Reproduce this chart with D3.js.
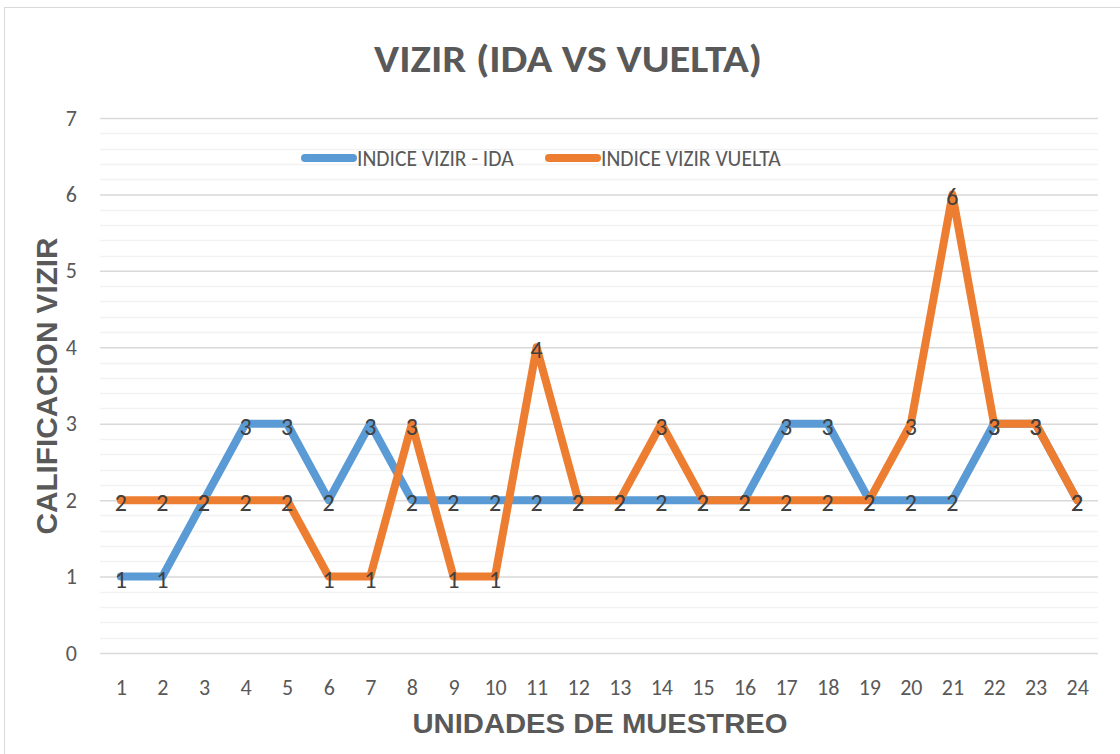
<!DOCTYPE html>
<html>
<head>
<meta charset="utf-8">
<script src="https://cdn.jsdelivr.net/npm/d3@7"></script>
<style>
  body { margin: 0; background: #fff; }
  text { font-family: Calibri, Carlito, "Liberation Sans", Arial, sans-serif; }
  .axis-title { font-family: Arial, "Liberation Sans", sans-serif; }
</style>
</head>
<body>
<svg id="chart" width="1120" height="754"></svg>
<script>
// datos
var unidades = [1,2,3,4,5,6,7,8,9,10,11,12,13,14,15,16,17,18,19,20,21,22,23,24];
var ida =    [1,1,2,3,3,2,3,2,2,2,2,2,2,2,2,2,3,3,2,2,2,3,3,2];
var vuelta = [2,2,2,2,2,1,1,3,1,1,4,2,2,3,2,2,2,2,2,3,6,3,3,2];
var yTicks = [0,1,2,3,4,5,6,7];
var seriesNames = ["INDICE VIZIR - IDA", "INDICE VIZIR VUELTA"];
var colors = ["#5B9BD5", "#ED7D31"];

var svg = d3.select("#chart");
var width = 1120, height = 754;
var margin = {left: 100, right: 22, top: 118, bottom: 101};

// marco del grafico
svg.append("rect")
  .attr("x", 4.5).attr("y", 7.5)
  .attr("width", width + 10).attr("height", height + 10)
  .attr("fill", "#fff")
  .attr("stroke", "#d9d9d9");

var x = d3.scalePoint()
  .domain(unidades)
  .range([margin.left, width - margin.right])
  .padding(0.5);

var y = d3.scaleLinear()
  .domain([0, 7])
  .range([height - margin.bottom, margin.top]);

// lineas de division menores
var minor = d3.range(0, 7.001, 0.2).filter(function(v){ return Math.abs(v - Math.round(v)) > 0.01; });
svg.append("g").selectAll("line").data(minor).enter().append("line")
  .attr("x1", margin.left).attr("x2", width - margin.right)
  .attr("y1", function(d){ return Math.round(y(d)) + 0.5; })
  .attr("y2", function(d){ return Math.round(y(d)) + 0.5; })
  .attr("stroke", "#f2f2f2").attr("stroke-width", 1.5);

// eje y con lineas mayores
var yAxis = svg.append("g")
  .attr("transform", "translate(" + margin.left + ",0)")
  .call(d3.axisLeft(y).tickValues(yTicks).tickFormat(d3.format("d"))
    .tickSize(-(width - margin.left - margin.right)).tickPadding(23));
yAxis.select(".domain").remove();
yAxis.selectAll(".tick line").attr("stroke", "#d9d9d9").attr("stroke-width", 1.5);
yAxis.selectAll(".tick text").attr("fill", "#595959").attr("font-size", "22px");

// eje x
var xAxis = svg.append("g")
  .attr("transform", "translate(0," + (height - margin.bottom) + ")")
  .call(d3.axisBottom(x).tickSize(0).tickPadding(26));
xAxis.select(".domain").remove();
xAxis.selectAll(".tick text").attr("fill", "#595959").attr("font-size", "22px");

// series
var series = [ida, vuelta];
var line = d3.line()
  .x(function(d, i){ return x(unidades[i]); })
  .y(function(d){ return y(d); });

series.forEach(function(s, k){
  svg.append("path")
    .datum(s)
    .attr("d", line)
    .attr("fill", "none")
    .attr("stroke", colors[k])
    .attr("stroke-width", 8)
    .attr("stroke-linejoin", "round")
    .attr("stroke-linecap", "round");
});

// etiquetas de datos
series.forEach(function(s, k){
  svg.append("g").selectAll("text").data(s).enter().append("text")
    .attr("x", function(d, i){ return x(unidades[i]); })
    .attr("y", function(d){ return y(d) + 11; })
    .attr("text-anchor", "middle")
    .attr("font-size", "24px")
    .attr("fill", "#404040")
    .text(function(d){ return d; });
});

// leyenda
var legendX = [303, 547];
seriesNames.forEach(function(name, k){
  var g = svg.append("g").attr("transform", "translate(" + legendX[k] + ",158)");
  g.append("line")
    .attr("x1", 2).attr("x2", 50).attr("y1", 0).attr("y2", 0)
    .attr("stroke", colors[k]).attr("stroke-width", 8).attr("stroke-linecap", "round");
  g.append("text")
    .attr("x", 54).attr("y", 8)
    .attr("font-size", "21.5px")
    .attr("fill", "#595959")
    .text(name);
});

// titulo
svg.append("text")
  .attr("x", 568).attr("y", 72)
  .attr("text-anchor", "middle")
  .attr("font-size", "38px").attr("font-weight", "bold")
  .attr("fill", "#595959")
  .attr("textLength", 388).attr("lengthAdjust", "spacingAndGlyphs")
  .text("VIZIR (IDA VS VUELTA)");

// titulos de ejes
svg.append("text")
  .attr("class", "axis-title")
  .attr("transform", "translate(57,386) rotate(-90)")
  .attr("text-anchor", "middle")
  .attr("font-size", "29px").attr("font-weight", "bold")
  .attr("fill", "#595959")
  .attr("textLength", 297).attr("lengthAdjust", "spacingAndGlyphs")
  .text("CALIFICACION VIZIR");

svg.append("text")
  .attr("class", "axis-title")
  .attr("x", 600).attr("y", 733)
  .attr("text-anchor", "middle")
  .attr("font-size", "28px").attr("font-weight", "bold")
  .attr("fill", "#595959")
  .attr("textLength", 375).attr("lengthAdjust", "spacingAndGlyphs")
  .text("UNIDADES DE MUESTREO");
</script>
</body>
</html>
